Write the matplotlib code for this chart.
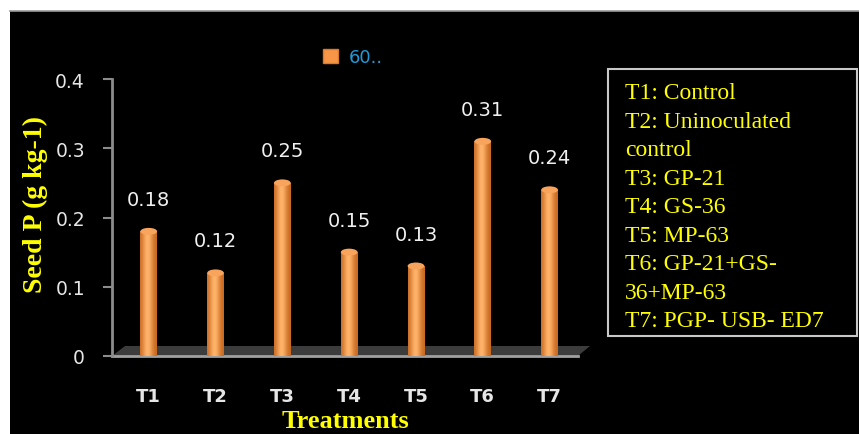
import numpy as np
import matplotlib
matplotlib.use("Agg")
import matplotlib.pyplot as plt
from matplotlib.patches import Rectangle, Polygon, Patch, Ellipse

# Data
treatments = ["T1", "T2", "T3", "T4", "T5", "T6", "T7"]
seed_p = [0.18, 0.12, 0.25, 0.15, 0.13, 0.31, 0.24]
series_name = "60.."
key_lines = ["T1: Control", "T2: Uninoculated", "control", "T3: GP-21", "T4: GS-36",
             "T5: MP-63", "T6: GP-21+GS-", "36+MP-63", "T7: PGP- USB- ED7"]

W, H = 859, 435
fig = plt.figure(figsize=(W / 100, H / 100), dpi=100, facecolor="white")

# black panel with thin grey top edge
fig.add_artist(Rectangle((10 / W, 0), 1 - 10 / W, 1 - 12 / H, transform=fig.transFigure,
                         facecolor="black", edgecolor="none", zorder=0))
fig.add_artist(plt.Line2D([10 / W, 1], [1 - 12 / H, 1 - 12 / H], transform=fig.transFigure,
                          color="#9a9a9a", lw=1.2, zorder=1))

ax = fig.add_axes([112 / W, 78 / H, 471 / W, 277 / H])
ax.set_facecolor("none")

x = np.arange(len(treatments))
bar_w = 0.25

# floor of the 3d chart
floor = Polygon([(0, 0), (13 / 471, 10 / 277), (478 / 471, 10 / 277), (466 / 471, 0)],
                closed=True, transform=ax.transAxes, facecolor="#3c3c3c",
                edgecolor="none", clip_on=False, zorder=1)
ax.add_patch(floor)
ax.plot([0, 466 / 471], [0, 0], transform=ax.transAxes, color="#a0a0a0", lw=2,
        clip_on=False, zorder=2)

bars = ax.bar(x, seed_p, width=bar_w, color="#f79646", edgecolor="none", zorder=3)

# cylinder shading
grad = np.linspace(0, 1, 64)
shade = np.exp(-((grad - 0.45) / 0.32) ** 2)
cmap = matplotlib.colors.LinearSegmentedColormap.from_list("cyl", ["#c96a22", "#ffb36a"])
for b in bars:
    im = ax.imshow(shade[np.newaxis, :], cmap=cmap, aspect="auto", zorder=4,
                   extent=(b.get_x(), b.get_x() + b.get_width(), 0, b.get_height()))
    im.set_clip_path(b)
    # rounded top
    ax.add_patch(Ellipse((b.get_x() + b.get_width() / 2, b.get_height()), b.get_width(), 0.01,
                         facecolor="#f9a45c", edgecolor="none", zorder=5))

for xi, v in zip(x, seed_p):
    ax.annotate(f"{v:.2f}", (xi, v), xytext=(0, 23), textcoords="offset points",
                ha="center", va="center", color="#f0f0f0", fontsize=14,
                family="DejaVu Sans")

ax.set_xlim(-0.55, 6.5)
ax.set_ylim(0, 0.4)
ax.set_yticks([0, 0.1, 0.2, 0.3, 0.4])
ax.set_yticklabels(["0", "0.1", "0.2", "0.3", "0.4"])
ax.set_xticks(x)
ax.set_xticklabels(treatments)

for s in ["top", "right", "bottom"]:
    ax.spines[s].set_visible(False)
ax.spines["left"].set_color("#8c8c8c")
ax.spines["left"].set_linewidth(2)
ax.tick_params(axis="y", direction="out", length=6.5, width=1.5, color="#8c8c8c",
               labelcolor="#e6e6e6", labelsize=13.5, pad=13)
ax.tick_params(axis="x", length=0, labelcolor="#e6e6e6", labelsize=13, pad=22)
for lbl in ax.get_xticklabels():
    lbl.set_fontweight("bold")

ax.set_ylabel("Seed P (g kg-1)", color="yellow", fontsize=20, fontweight="bold",
              family="Liberation Serif", va="center")
ax.yaxis.set_label_coords(-0.163, 0.552)
ax.set_xlabel("Treatments", color="yellow", fontsize=19, fontweight="bold",
              family="Liberation Serif", va="center")
ax.xaxis.set_label_coords(0.495, -0.232)

leg = ax.legend(handles=[Patch(facecolor="#f79646", edgecolor="#d97a2c")], labels=[series_name],
                loc="center left", bbox_to_anchor=(323 / W, 1 - 58 / H),
                bbox_transform=fig.transFigure, frameon=False, fontsize=13,
                handlelength=0.85, handleheight=0.85, handletextpad=0.6,
                borderpad=0, borderaxespad=0)
for t in leg.get_texts():
    t.set_color("#1f9ad6")

# key box on the right
fig.add_artist(Rectangle((608 / W, 1 - 337 / H), 249 / W, 267 / H, transform=fig.transFigure,
                         facecolor="black", edgecolor="#c8c8c8", lw=1.5, zorder=2))
fig.text(625 / W, 1 - 83 / H, "\n".join(key_lines), color="yellow", fontsize=17,
         family="Liberation Serif", ha="left", va="top", linespacing=1.47, zorder=3)

fig.savefig("out.png", dpi=100, facecolor=fig.get_facecolor())
